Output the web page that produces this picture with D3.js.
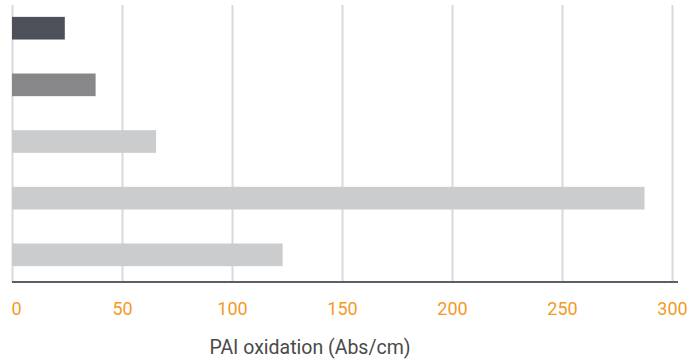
<!DOCTYPE html>
<html>
<head>
<meta charset="utf-8">
<script src="https://cdn.jsdelivr.net/npm/d3@7"></script>
<style>
  body { margin: 0; background: #fff; }
  #chart text { font-family: Roboto, "Liberation Sans", sans-serif; }
</style>
</head>
<body>
<div id="chart"></div>
<script>
// bars, top to bottom (no category labels in the original)
var categories = ["s1", "s2", "s3", "s4", "s5"];
var values = [24, 38, 65.5, 287.5, 123];
var barColors = ["#4d5059", "#88888b", "#cbcccd", "#cbcccd", "#cbcccd"];
var tickValues = [0, 50, 100, 150, 200, 250, 300];
var axisTitle = "PAI oxidation (Abs/cm)";

var width = 691,
    height = 362,
    margin = {top: 5, left: 12, right: 19},
    axisY = 282;

var svg = d3.select("#chart")
    .append("svg")
    .attr("width", width)
    .attr("height", height);

var xScale = d3.scaleLinear().domain([0, 300]).range([margin.left, 672]);
var yScale = d3.scaleBand()
    .domain(categories)
    .range([1, axisY])
    .paddingInner(0.6)
    .paddingOuter(0.28);

// vertical grid lines
var grid = svg.append("g")
    .attr("class", "grid")
    .attr("transform", `translate(0,${axisY})`)
    .call(d3.axisBottom(xScale).tickValues(tickValues).tickSize(-(axisY - margin.top)).tickFormat(""));
grid.select(".domain").remove();
grid.selectAll("line").attr("stroke", "#d9d9d9").attr("stroke-width", 2);

// bars
svg.selectAll(".bar")
    .data(categories)
    .enter().append("rect")
    .attr("class", "bar")
    .attr("x", xScale(0))
    .attr("y", d => yScale(d))
    .attr("width", (d, i) => xScale(values[i]) - xScale(0))
    .attr("height", yScale.bandwidth())
    .style("fill", (d, i) => barColors[i]);

// x axis
var xAxis = svg.append("g")
    .attr("class", "x axis")
    .attr("transform", `translate(0,${axisY})`)
    .call(d3.axisBottom(xScale).tickValues(tickValues).tickSize(0).tickPadding(20));
xAxis.select(".domain").remove();
xAxis.selectAll("text")
    .attr("fill", "#f39a26")
    .style("font-size", "18px");
xAxis.selectAll(".tick").filter(d => d === 0).select("text").attr("dx", 4);

svg.append("line")
    .attr("x1", xScale(0))
    .attr("x2", width - margin.right + 6)
    .attr("y1", axisY)
    .attr("y2", axisY)
    .attr("stroke", "#5b5e66")
    .attr("stroke-width", 2);

// axis title
svg.append("text")
    .attr("x", 310)
    .attr("y", 354)
    .attr("text-anchor", "middle")
    .attr("fill", "#4a4a4a")
    .style("font-size", "19.5px")
    .text(axisTitle);
</script>
</body>
</html>
